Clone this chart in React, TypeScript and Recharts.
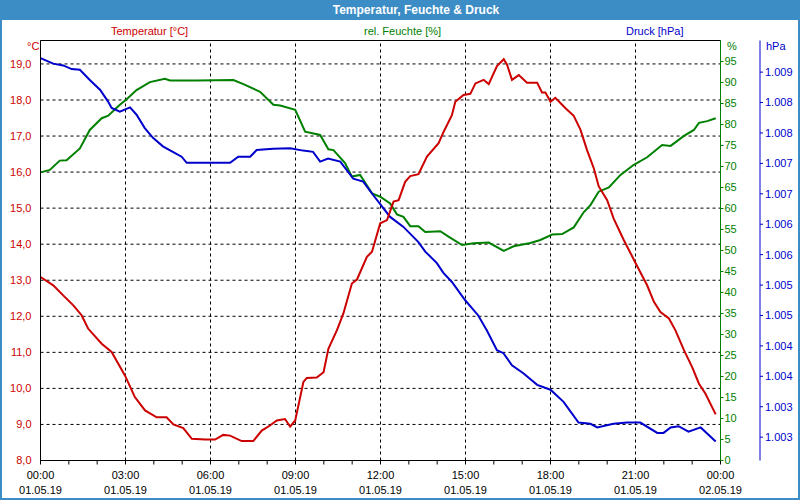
import React from "react";
import { LineChart, Line, XAxis, YAxis, CartesianGrid, ReferenceLine } from "recharts";

// time in hours since 01.05.19 00:00
const TEMP_T = [0, 0.45, 0.8, 1.15, 1.45, 1.68, 2.16, 2.51, 2.98, 3.33, 3.69, 4.1, 4.45, 4.69, 5.04, 5.34, 5.81, 6.16, 6.45, 6.69, 7.1, 7.51, 7.81, 8.1, 8.34, 8.63, 8.81, 8.99, 9.28, 9.4, 9.75, 9.99, 10.16, 10.46, 10.69, 10.99, 11.17, 11.52, 11.7, 11.99, 12.23, 12.46, 12.64, 12.87, 13.05, 13.34, 13.64, 14.05, 14.23, 14.52, 14.64, 14.93, 15.17, 15.35, 15.64, 15.82, 16.11, 16.35, 16.47, 16.64, 16.88, 17.17, 17.53, 17.7, 17.82, 18.0, 18.17, 18.53, 18.82, 19.06, 19.29, 19.53, 19.7, 20.0, 20.23, 20.59, 21.06, 21.41, 21.65, 21.88, 22.18, 22.41, 22.71, 23.0, 23.24, 23.47, 23.83];
const TEMP_V = [13.09, 12.86, 12.58, 12.31, 12.03, 11.66, 11.24, 11.01, 10.36, 9.76, 9.39, 9.2, 9.2, 9.0, 8.9, 8.6, 8.58, 8.58, 8.71, 8.69, 8.54, 8.54, 8.83, 8.97, 9.11, 9.15, 8.94, 9.11, 10.18, 10.29, 10.3, 10.45, 11.1, 11.61, 12.08, 12.91, 13.02, 13.65, 13.79, 14.58, 14.67, 15.18, 15.22, 15.73, 15.89, 15.94, 16.43, 16.8, 17.12, 17.58, 17.95, 18.14, 18.17, 18.46, 18.56, 18.44, 18.94, 19.13, 18.97, 18.56, 18.69, 18.48, 18.48, 18.21, 18.21, 17.95, 18.06, 17.77, 17.56, 17.17, 16.61, 16.1, 15.61, 15.22, 14.71, 14.11, 13.39, 12.86, 12.4, 12.12, 11.94, 11.61, 11.06, 10.59, 10.13, 9.85, 9.28];

const HUM_T = [0, 0.33, 0.68, 0.92, 1.39, 1.74, 2.16, 2.39, 2.8, 3.04, 3.39, 3.86, 4.39, 4.57, 5.51, 6.81, 7.16, 7.75, 8.22, 8.46, 8.99, 9.34, 9.87, 10.16, 10.34, 10.75, 10.99, 11.28, 11.7, 11.99, 12.34, 12.58, 12.81, 13.05, 13.34, 13.58, 14.11, 14.4, 14.88, 15.29, 15.82, 16.35, 16.7, 17.29, 17.64, 18.06, 18.41, 18.82, 19.17, 19.41, 19.7, 20.06, 20.47, 20.94, 21.41, 21.94, 22.24, 22.71, 23.06, 23.24, 23.53, 23.83];
const HUM_V = [68.6, 69.2, 71.4, 71.5, 74.3, 78.7, 81.5, 82.1, 84.7, 86.0, 88.2, 90.1, 90.9, 90.5, 90.5, 90.6, 89.6, 87.8, 84.7, 84.5, 83.5, 78.3, 77.5, 74.1, 73.9, 70.8, 67.6, 68.0, 63.6, 62.8, 61.2, 58.6, 58.0, 55.8, 55.8, 54.4, 54.6, 53.3, 51.3, 51.7, 51.9, 49.9, 51.0, 51.8, 52.5, 53.8, 53.9, 55.5, 59.1, 60.8, 64.0, 65.0, 68.0, 70.4, 72.2, 75.1, 74.9, 77.3, 78.7, 80.4, 80.8, 81.5];

const PRES_T = [0, 0.45, 0.8, 1.1, 1.39, 1.74, 2.1, 2.38, 2.51, 2.8, 3.16, 3.39, 3.68, 3.97, 4.32, 4.67, 4.98, 5.16, 5.87, 6.69, 6.98, 7.4, 7.63, 8.21, 8.81, 9.27, 9.62, 9.87, 10.15, 10.58, 11.04, 11.39, 11.74, 12.34, 12.8, 13.33, 13.58, 13.99, 14.22, 14.52, 14.99, 15.45, 15.76, 16.11, 16.34, 16.64, 17.04, 17.53, 18.0, 18.46, 18.99, 19.41, 19.65, 20.22, 20.71, 21.17, 21.77, 21.99, 22.24, 22.52, 22.87, 23.3, 23.83];
const PRES_V = [1009.23, 1009.14, 1009.11, 1009.05, 1009.04, 1008.87, 1008.71, 1008.52, 1008.41, 1008.35, 1008.42, 1008.3, 1008.08, 1007.92, 1007.78, 1007.69, 1007.61, 1007.51, 1007.51, 1007.51, 1007.61, 1007.61, 1007.72, 1007.74, 1007.75, 1007.71, 1007.69, 1007.53, 1007.58, 1007.53, 1007.25, 1007.2, 1006.98, 1006.62, 1006.46, 1006.21, 1006.05, 1005.86, 1005.7, 1005.55, 1005.25, 1005.0, 1004.75, 1004.43, 1004.38, 1004.18, 1004.05, 1003.86, 1003.78, 1003.58, 1003.24, 1003.22, 1003.16, 1003.22, 1003.24, 1003.24, 1003.07, 1003.07, 1003.16, 1003.18, 1003.09, 1003.16, 1002.93];

const HOUR_TICKS = [0, 1, 2, 3, 4, 5, 6, 7, 8, 9, 10, 11, 12, 13, 14, 15, 16, 17, 18, 19, 20, 21, 22, 23, 24];
const LABEL_HOURS = [0, 3, 6, 9, 12, 15, 18, 21, 24];
const TIME_LABELS = ["00:00", "03:00", "06:00", "09:00", "12:00", "15:00", "18:00", "21:00", "00:00"];
const DATE_LABELS = ["01.05.19", "01.05.19", "01.05.19", "01.05.19", "01.05.19", "01.05.19", "01.05.19", "01.05.19", "02.05.19"];

const TEMP_TICKS = [8, 9, 10, 11, 12, 13, 14, 15, 16, 17, 18, 19];
const HUM_TICKS = [0, 5, 10, 15, 20, 25, 30, 35, 40, 45, 50, 55, 60, 65, 70, 75, 80, 85, 90, 95];
const PRES_TICKS = [1003, 1003.5, 1004, 1004.5, 1005, 1005.5, 1006, 1006.5, 1007, 1007.5, 1008, 1008.5, 1009];
const PRES_LABELS = ["1.003", "1.003", "1.004", "1.004", "1.005", "1.005", "1.006", "1.006", "1.007", "1.007", "1.008", "1.008", "1.009"];

const TEMP_MAX = 19.65;
const RED = "#cc0000";
const GREEN = "#008000";
const BLUE = "#0000cc";
const FRAME = "#3c8dc5";
const FONT = "Tahoma, 'Liberation Sans', sans-serif";

const tempData = TEMP_T.map((t, i) => ({ t, v: TEMP_V[i] }));
const humData = HUM_T.map((t, i) => ({ t, v: HUM_V[i] }));
const presData = PRES_T.map((t, i) => ({ t, v: PRES_V[i] }));

function TimeTick(props: any) {
  const { x, y, payload } = props;
  const idx = LABEL_HOURS.indexOf(payload.value);
  if (idx < 0) return null;
  return (
    <g>
      <text x={x} y={y} dy={12.5} textAnchor="middle" fill="#000" fontSize={11} fontFamily={FONT}>
        {TIME_LABELS[idx]}
      </text>
      <text x={x} y={y} dy={27.5} textAnchor="middle" fill="#000" fontSize={11} fontFamily={FONT}>
        {DATE_LABELS[idx]}
      </text>
    </g>
  );
}

const abs = (left: number, top: number, color: string, extra: React.CSSProperties = {}): React.CSSProperties => ({
  position: "absolute",
  left,
  top,
  color,
  fontFamily: FONT,
  fontSize: 11,
  lineHeight: "13px",
  whiteSpace: "nowrap",
  ...extra,
});

export default function App() {
  return (
    <div
      style={{
        position: "fixed",
        left: 0,
        top: 0,
        width: 800,
        height: 500,
        boxSizing: "border-box",
        border: `2px solid ${FRAME}`,
        borderTop: "none",
        background: "#fff",
        overflow: "hidden",
      }}
    >
      <div
        style={{
          position: "absolute",
          left: 0,
          top: 0,
          width: 800,
          height: 20,
          background: FRAME,
          color: "#fff",
          fontFamily: FONT,
          fontWeight: "bold",
          fontSize: 12,
          lineHeight: "20px",
        }}
      >
        <div style={{ position: "absolute", left: 264, width: 300, textAlign: "center" }}>
          Temperatur, Feuchte &amp; Druck
        </div>
      </div>

      <div style={abs(109, 25, RED)}>Temperatur [°C]</div>
      <div style={abs(362, 25, GREEN)}>rel. Feuchte [%]</div>
      <div style={abs(624, 25, BLUE)}>Druck [hPa]</div>
      <div style={abs(25, 40, RED)}>°C</div>
      <div style={abs(725, 40, GREEN)}>%</div>
      <div style={abs(764, 40, BLUE)}>hPa</div>

      <div style={{ position: "absolute", left: -2, top: 0 }}>
        <LineChart width={800} height={500} margin={{ top: 40.5, right: 0, bottom: 4.5, left: 0.5 }}>
          <CartesianGrid yAxisId="temp" vertical={false} stroke="#000" strokeDasharray="3 3" />
          <XAxis
            type="number"
            dataKey="t"
            domain={[0, 24]}
            ticks={HOUR_TICKS}
            interval={0}
            height={35}
            axisLine={{ stroke: "#000" }}
            tickLine={{ stroke: "#000" }}
            tickSize={4}
            tickMargin={2}
            tick={<TimeTick />}
          />
          <YAxis
            yAxisId="temp"
            orientation="left"
            width={40}
            domain={[8, TEMP_MAX]}
            ticks={TEMP_TICKS}
            interval={0}
            axisLine={{ stroke: "#000" }}
            tickLine={false}
            tickMargin={3}
            tick={{ fill: RED, fontSize: 11, fontFamily: FONT }}
            tickFormatter={(v: number) => v.toFixed(1).replace(".", ",")}
          />
          <YAxis
            yAxisId="hum"
            orientation="right"
            width={39.5}
            domain={[0, 100]}
            ticks={HUM_TICKS}
            interval={0}
            axisLine={{ stroke: GREEN }}
            tickLine={{ stroke: GREEN }}
            tickSize={3}
            tickMargin={1}
            tick={{ fill: GREEN, fontSize: 11, fontFamily: FONT }}
          />
          <YAxis
            yAxisId="pres"
            orientation="right"
            width={40}
            domain={[1002.616, 1009.52]}
            ticks={PRES_TICKS}
            interval={0}
            axisLine={{ stroke: BLUE }}
            tickLine={{ stroke: BLUE }}
            tickSize={3}
            tickMargin={2}
            tick={{ fill: BLUE, fontSize: 11, fontFamily: FONT }}
            tickFormatter={(_v: number, i: number) => PRES_LABELS[i]}
          />
          {LABEL_HOURS.slice(1, -1).map((h) => (
            <ReferenceLine key={h} yAxisId="temp" x={h} stroke="#000" strokeDasharray="3 3" />
          ))}
          <ReferenceLine yAxisId="temp" y={TEMP_MAX} stroke="#000" />
          <Line
            yAxisId="hum"
            data={humData}
            dataKey="v"
            type="linear"
            stroke={GREEN}
            strokeWidth={2}
            dot={false}
            isAnimationActive={false}
          />
          <Line
            yAxisId="pres"
            data={presData}
            dataKey="v"
            type="linear"
            stroke={BLUE}
            strokeWidth={2}
            dot={false}
            isAnimationActive={false}
          />
          <Line
            yAxisId="temp"
            data={tempData}
            dataKey="v"
            type="linear"
            stroke={RED}
            strokeWidth={2}
            dot={false}
            isAnimationActive={false}
          />
        </LineChart>
      </div>
    </div>
  );
}
